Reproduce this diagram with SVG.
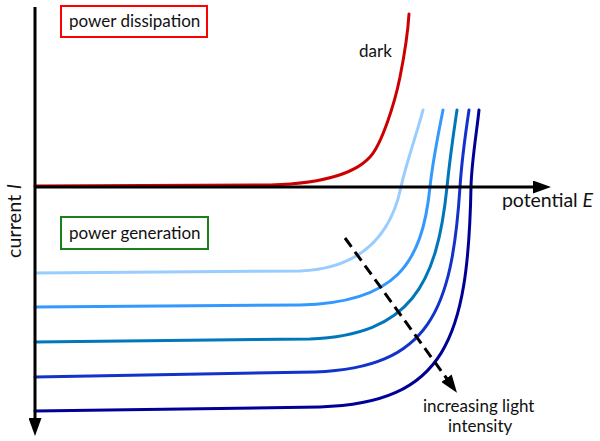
<svg xmlns="http://www.w3.org/2000/svg" width="600" height="441" viewBox="0 0 600 441">
<style>
  .lbl { font-family: Lato, "Open Sans", "DejaVu Sans", sans-serif; font-size: 17px; fill: #111; }
  .big { font-size: 19.5px; }
  .axis { stroke: #000; stroke-width: 3; fill: none; }
  .curve { fill: none; stroke-width: 3; stroke-linecap: round; }
  .box { fill: #fff; stroke-width: 2; }
</style>
<defs>
  <marker id="arrow" markerUnits="userSpaceOnUse" viewBox="0 0 18 13" markerWidth="18" markerHeight="13" refX="1" refY="6.5" orient="auto">
    <path d="M0,0 L18,6.5 L0,13 Z" fill="#000"/>
  </marker>
</defs>
<g id="connectors">
  <g id="curves">
    <path id="dark-curve" class="curve" stroke="#cc0000" d="M35,186 L260,185 C320,185 355,173.5 370,157 C382,144 395,102 400,77 C405,52 408,30 409,14"/>
    <path id="curve1" class="curve" stroke="#99ccff" d="M35,273 L300,271 C370,268 393,225 401,187 C405.8,164.2 418,130 423,110"/>
    <path id="curve2" class="curve" stroke="#3399ff" d="M35,307 L300,305 C395,303 422,265 430,187 C432.5,162 439,130 443,110"/>
    <path id="curve3" class="curve" stroke="#0077bb" d="M35,342 L310,339 C410,335 437,285 447,187 C449.5,162 454,130 457,110"/>
    <path id="curve4" class="curve" stroke="#1133cc" d="M35,377 L315,372 C430,368 452,310 460,187 C461.6,162 466,130 469,110"/>
    <path id="curve5" class="curve" stroke="#000099" d="M35,411 L320,407 C445,403 468,340 471,187 C471.5,162 477,130 479,110"/>
  </g>
  <line id="x-axis" class="axis" x1="35" y1="187" x2="534" y2="187" marker-end="url(#arrow)"/>
  <line id="y-axis" class="axis" x1="35" y1="7" x2="35" y2="419" marker-end="url(#arrow)"/>
  <line id="light-arrow" stroke="#000" stroke-width="3" stroke-dasharray="11 6" x1="345" y1="238" x2="447" y2="379" marker-end="url(#arrow)"/>
</g>
<g id="node-dissipation">
  <rect class="box" x="61" y="6" width="146" height="31" stroke="#ff0000"/>
  <text class="lbl" x="69" y="27">power dissipation</text>
</g>
<g id="node-generation">
  <rect class="box" x="61" y="217" width="147" height="32" stroke="#1a801a"/>
  <text class="lbl" x="69" y="239">power generation</text>
</g>
<g id="labels">
  <text class="lbl" x="359" y="57">dark</text>
  <text class="lbl big" x="502" y="207" textLength="91">potential <tspan font-style="italic">E</tspan></text>
  <text class="lbl big" transform="translate(21,258) rotate(-90)" textLength="74">current <tspan font-style="italic">I</tspan></text>
  <text class="lbl" x="423" y="412">increasing light</text>
  <text class="lbl" x="448" y="432">intensity</text>
</g>
</svg>
